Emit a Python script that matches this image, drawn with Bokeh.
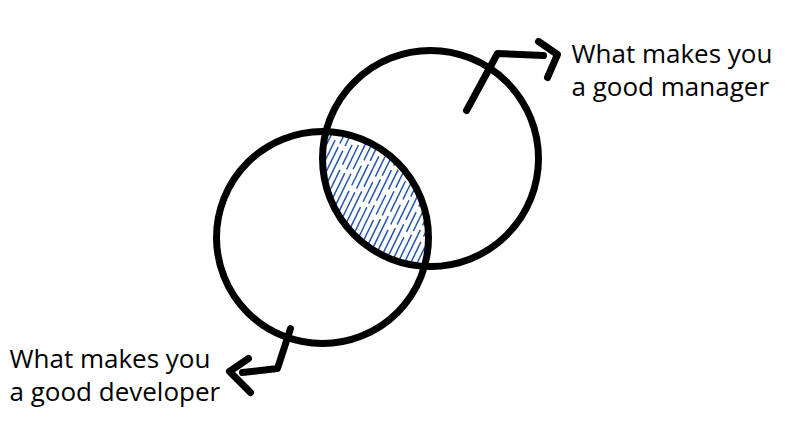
import numpy as np
from bokeh.plotting import figure
from bokeh.models import Range1d
from bokeh.core.properties import value
from bokeh.embed import file_html
from bokeh.resources import INLINE

# two sets: developer (lower left) and manager (upper right), in picture pixels
circle_x = [322, 430]
circle_y = [237, 158]
circle_r = [106, 108]

# arrows pointing to the labels: stem then chevron head
arrow_stem_x = [[466, 497, 543], [290, 277, 242]]
arrow_stem_y = [[110, 53, 55], [328, 368, 372]]
arrow_head_x = [[538, 557, 547], [248, 229, 250]]
arrow_head_y = [[41, 54, 77], [358, 371, 392]]

label_text = ["What makes you", "a good manager", "What makes you", "a good developer"]
label_x = [571, 571, 9, 9]
label_y = [52, 85, 357, 390]

HATCH = "#2558ad"


def lens_hatch(angle=64, step=5.8, inset=3):
    # steep parallel strokes clipped to the overlap of both circles
    a = np.deg2rad(angle)
    u = np.array([np.cos(a), -np.sin(a)])
    n = np.array([np.sin(a), np.cos(a)])
    c0 = np.array([(circle_x[0] + circle_x[1]) / 2, (circle_y[0] + circle_y[1]) / 2])
    xs, ys = [], []
    for s in np.arange(-80, 80, step):
        base = c0 + s * n
        lo, hi = -np.inf, np.inf
        ok = True
        for cx, cy, r in zip(circle_x, circle_y, circle_r):
            d = base - np.array([cx, cy])
            b = d @ u
            disc = b * b - (d @ d - (r - inset) ** 2)
            if disc <= 0:
                ok = False
                break
            lo = max(lo, -b - np.sqrt(disc))
            hi = min(hi, -b + np.sqrt(disc))
        if ok and hi > lo:
            p0, p1 = base + lo * u, base + hi * u
            xs.append([p0[0], p1[0]])
            ys.append([p0[1], p1[1]])
    return xs, ys


p = figure(
    width=784,
    height=410,
    x_range=Range1d(0, 784),
    y_range=Range1d(410, 0),
    output_backend="svg",
    toolbar_location=None,
    tools="",
    min_border=0,
    x_axis_location=None,
    y_axis_location=None,
)
p.grid.visible = False
p.outline_line_color = None

hx, hy = lens_hatch()
p.multi_line(hx[::3], hy[::3], line_color=HATCH, line_width=1.5, line_dash="34 5")
p.multi_line(hx[1::3], hy[1::3], line_color=HATCH, line_width=1.5, line_dash="22 6")
p.multi_line(hx[2::3], hy[2::3], line_color=HATCH, line_width=1.5, line_dash="27 4")

p.circle(circle_x, circle_y, radius=circle_r, fill_color=None,
         line_color="black", line_width=7)

p.multi_line(arrow_stem_x, arrow_stem_y, line_color="black", line_width=7,
             line_cap="round", line_join="round")
p.multi_line(arrow_head_x, arrow_head_y, line_color="black", line_width=7,
             line_cap="round", line_join="round")

p.text(label_x, label_y, text=label_text, text_font=value("Open Sans"),
       text_font_size="26px", text_color="black", text_baseline="alphabetic")

open("out.html", "w").write(file_html(p, INLINE))
